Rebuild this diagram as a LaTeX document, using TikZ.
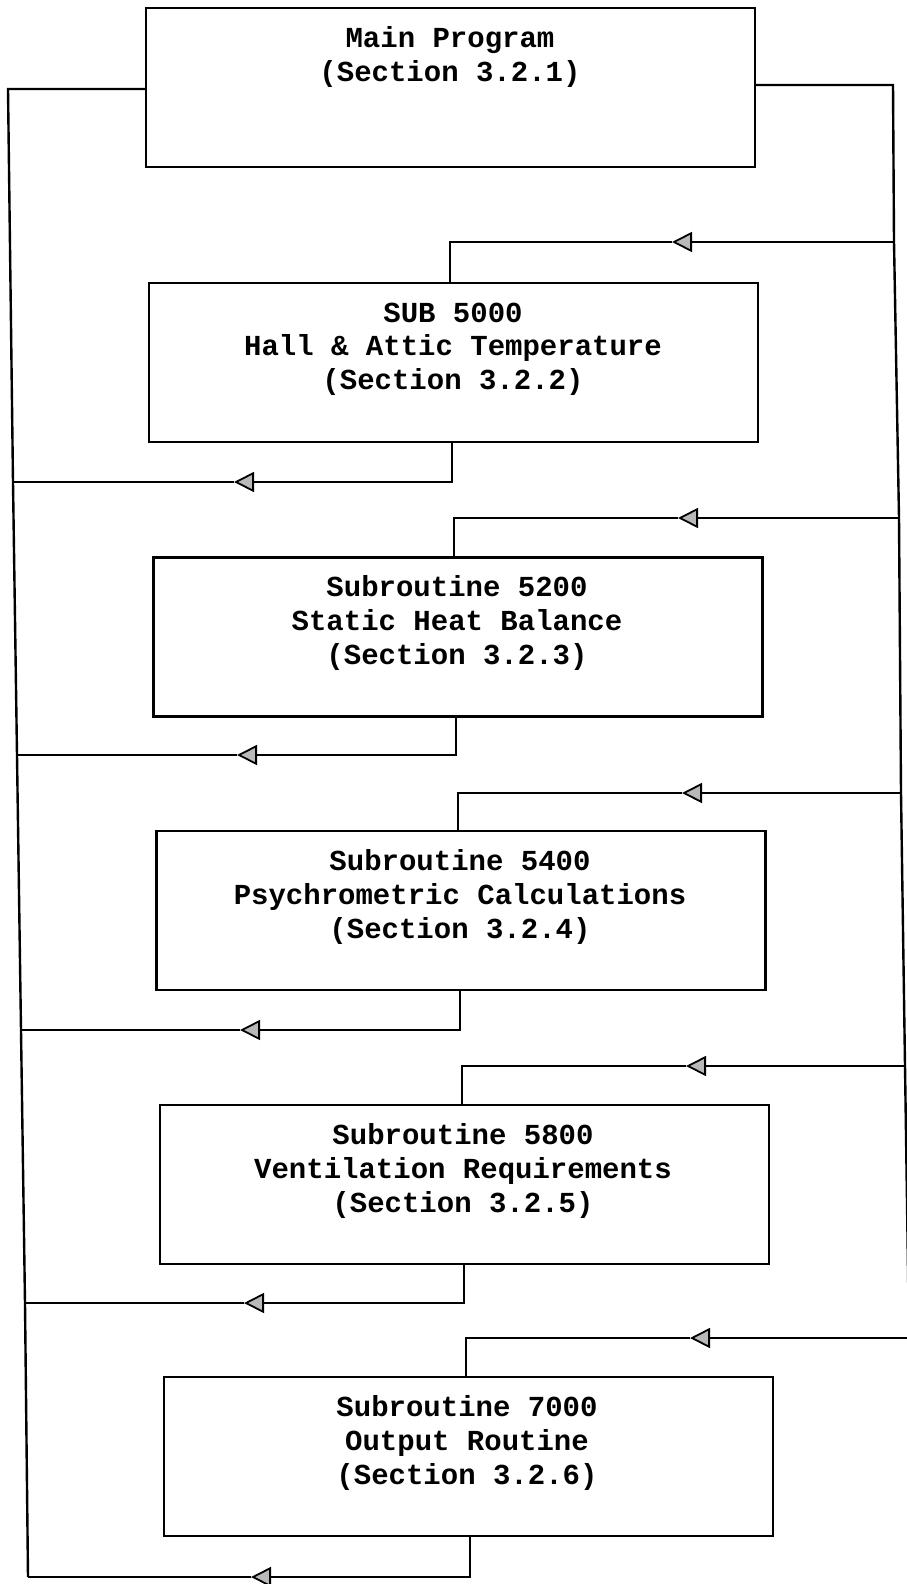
\documentclass[tikz,border=0pt]{standalone}
\usepackage{fontspec}
\setmainfont{Liberation Mono}
\usetikzlibrary{arrows.meta,calc}
\tikzset{
  box/.style={draw, line width=1.3pt, minimum width=304.5pt, minimum height=79.5pt, inner sep=0pt, outer sep=0pt},
  txt/.style={align=center, inner sep=0pt, font=\fontsize{14.5}{16.8}\selectfont\bfseries},
  wire/.style={line width=1.2pt},
  arr/.style={wire, -{Triangle[length=10pt,width=10pt,fill=gray!55,line width=0.9pt]}}
}
\begin{document}
\begin{tikzpicture}[x=0.5pt,y=-0.5pt]
\useasboundingbox (0,0) rectangle (906,1584);
% boxes
\node[box] (b1) at (450.5,87.5) {};
\node[box] (b2) at (453.5,362.5) {};
\node[box] (b3) at (458,637) {};
\node[box] (b4) at (461,910.5) {};
\node[box] (b5) at (464.5,1184.5) {};
\node[box] (b6) at (468.5,1456.5) {};
% texts
\node[txt] (t1) at (450,57) {Main Program\\(Section 3.2.1)};
\node[txt] (t2) at (453,349) {SUB 5000\\Hall \& Attic Temperature\\(Section 3.2.2)};
\node[txt] (t3) at (457,623) {Subroutine 5200\\Static Heat Balance\\(Section 3.2.3)};
\node[txt] (t4) at (460,897) {Subroutine 5400\\Psychrometric Calculations\\(Section 3.2.4)};
\node[txt] (t5) at (463,1171) {Subroutine 5800\\Ventilation Requirements\\(Section 3.2.5)};
\node[txt] (t6) at (467,1443) {Subroutine 7000\\Output Routine\\(Section 3.2.6)};
% spine points
\coordinate (R0) at (893,85);
\coordinate (R1) at (894,242);
\coordinate (R2) at (899,518);
\coordinate (R3) at (901,793);
\coordinate (R4) at (905,1066);
\coordinate (R5) at (909,1338);
\coordinate (L0) at (8,89);
\coordinate (L1) at (13,482);
\coordinate (L2) at (17,755);
\coordinate (L3) at (21,1030);
\coordinate (L4) at (25,1303);
\coordinate (L5) at (28,1577);
% arrow tips
\coordinate (T1) at (672,242);
\coordinate (T2) at (678,518);
\coordinate (T3) at (682,793);
\coordinate (T4) at (686,1066);
\coordinate (T5) at (690,1338);
\coordinate (U1) at (234,482);
\coordinate (U2) at (237,755);
\coordinate (U3) at (240,1030);
\coordinate (U4) at (244,1303);
\coordinate (U5) at (251,1577);
% box attach points
\coordinate (I1) at ($(b2.north)+(-3.5,0)$);
\coordinate (I2) at ($(b3.north)+(-4,0)$);
\coordinate (I3) at ($(b4.north)+(-3,0)$);
\coordinate (I4) at ($(b5.north)+(-2.5,0)$);
\coordinate (I5) at ($(b6.north)+(-2.5,0)$);
\coordinate (O1) at ($(b2.south)+(-1.5,0)$);
\coordinate (O2) at ($(b3.south)+(-2,0)$);
\coordinate (O3) at ($(b4.south)+(-1,0)$);
\coordinate (O4) at ($(b5.south)+(-0.5,0)$);
\coordinate (O5) at ($(b6.south)+(1.5,0)$);
\coordinate (M1) at ($(b1.east)+(0,-2.5)$);
\coordinate (M2) at ($(b1.west)+(0,1.5)$);
% spines
\draw[wire] (M1) -- (R0) -- (R1) -- (R2) -- (R3) -- (R4) -- (R5);
\draw[wire] (M2) -- (L0) -- (L1) -- (L2) -- (L3) -- (L4) -- (L5);
% incoming
\foreach \k in {1,...,5}{
  \draw[arr] (R\k) -- (T\k);
  \draw[wire] (T\k) -- (I\k |- T\k) -- (I\k);
}
% outgoing
\foreach \k in {1,...,5}{
  \draw[arr] (O\k) -- (O\k |- U\k) -- (U\k);
  \draw[wire] (U\k) -- (L\k);
}
\end{tikzpicture}
\end{document}
